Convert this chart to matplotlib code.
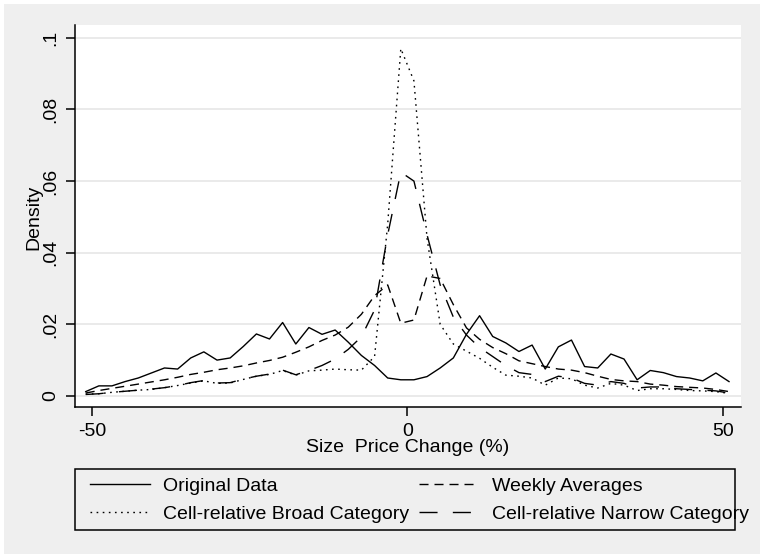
# Density of price-change size, four series (Stata-style look)
import numpy as np
import matplotlib
matplotlib.use("Agg")
import matplotlib.pyplot as plt
from matplotlib.patches import Rectangle

plt.rcParams['font.family'] = ['Liberation Sans', 'DejaVu Sans']

# --------------------------------------------------- data
x = [-51.0, -48.92, -46.84, -44.76, -42.67, -40.59, -38.51, -36.43, -34.35, -32.27,
     -30.18, -28.10, -26.02, -23.94, -21.86, -19.78, -17.69, -15.61, -13.53, -11.45,
     -9.37, -7.29, -5.20, -3.12, -1.04, 1.04, 3.12, 5.20, 7.29, 9.37,
     11.45, 13.53, 15.61, 17.69, 19.78, 21.86, 23.94, 26.02, 28.10, 30.18,
     32.27, 34.35, 36.43, 38.51, 40.59, 42.67, 44.76, 46.84, 48.92, 51.0]

original = [0.0012, 0.0028, 0.0028, 0.0040, 0.0050, 0.0064, 0.0078, 0.0075, 0.0106, 0.0123,
            0.0100, 0.0106, 0.0138, 0.0173, 0.0159, 0.0205, 0.0145, 0.0191, 0.0172, 0.0184,
            0.0150, 0.0113, 0.0085, 0.0050, 0.0045, 0.0045, 0.0054, 0.0078, 0.0106, 0.0172,
            0.0224, 0.0166, 0.0148, 0.0124, 0.0142, 0.0075, 0.0137, 0.0156, 0.0082, 0.0078,
            0.0117, 0.0103, 0.0045, 0.0071, 0.0065, 0.0054, 0.0050, 0.0042, 0.0064, 0.0040]

weekly = [0.0008, 0.0015, 0.0021, 0.0027, 0.0033, 0.0039, 0.0045, 0.0052, 0.0060, 0.0066,
          0.0073, 0.0078, 0.0084, 0.0092, 0.0099, 0.0108, 0.0122, 0.0137, 0.0155, 0.0170,
          0.0192, 0.0228, 0.0280, 0.0310, 0.0203, 0.0212, 0.0335, 0.0328, 0.0255, 0.0190,
          0.0158, 0.0135, 0.0118, 0.0098, 0.0090, 0.0082, 0.0075, 0.0072, 0.0065, 0.0055,
          0.0046, 0.0042, 0.0040, 0.0033, 0.0030, 0.0026, 0.0024, 0.0022, 0.0018, 0.0012]

broad = [0.0005, 0.0006, 0.0010, 0.0013, 0.0016, 0.0018, 0.0023, 0.0029, 0.0036, 0.0042,
         0.0035, 0.0036, 0.0046, 0.0055, 0.0060, 0.0071, 0.0058, 0.0070, 0.0072, 0.0075,
         0.0073, 0.0072, 0.0110, 0.0480, 0.0970, 0.0880, 0.0440, 0.0200, 0.0145, 0.0125,
         0.0105, 0.0080, 0.0058, 0.0055, 0.0050, 0.0030, 0.0050, 0.0048, 0.0030, 0.0022,
         0.0035, 0.0030, 0.0015, 0.0020, 0.0020, 0.0018, 0.0015, 0.0014, 0.0012, 0.0007]

narrow = [0.0004, 0.0006, 0.0010, 0.0013, 0.0016, 0.0019, 0.0023, 0.0029, 0.0037, 0.0043,
          0.0036, 0.0037, 0.0047, 0.0055, 0.0061, 0.0072, 0.0059, 0.0071, 0.0085, 0.0103,
          0.0130, 0.0165, 0.0240, 0.0450, 0.0625, 0.0600, 0.0450, 0.0310, 0.0220, 0.0170,
          0.0135, 0.0110, 0.0085, 0.0065, 0.0060, 0.0040, 0.0055, 0.0050, 0.0035, 0.0030,
          0.0040, 0.0035, 0.0022, 0.0025, 0.0025, 0.0020, 0.0018, 0.0016, 0.0014, 0.0008]

xticks = [-50, 0, 50]
yticks = [0, 0.02, 0.04, 0.06, 0.08, 0.1]
ytick_labels = ["0", ".02", ".04", ".06", ".08", ".1"]

# --------------------------------------------------- figure / axes
W, H = 760, 554
fig = plt.figure(figsize=(W / 100, H / 100), dpi=100, facecolor='white')
fig.patches.append(Rectangle((4 / W, 0), 1, 1 - 4 / H, transform=fig.transFigure,
                             facecolor='#efefef', edgecolor='none', zorder=-5))

ax = fig.add_axes([75 / W, 1 - 407 / H, 666 / W, 382 / H])
ax.set_facecolor('white')

l1, = ax.plot(x, original, color='black', lw=1.0, linestyle='-')
l2, = ax.plot(x, weekly, color='black', lw=1.0, linestyle=(0, (6.5, 4.3)))
l3, = ax.plot(x, broad, color='black', lw=1.0, linestyle=(0, (1.2, 3.2)))
l4, = ax.plot(x, narrow, color='black', lw=1.0, linestyle=(0, (13, 11)))

ax.set_xlim(-52.7, 52.9)
ax.set_ylim(-0.0031, 0.1036)
ax.set_xticks(xticks)
ax.set_xticklabels([str(t) for t in xticks])
ax.set_yticks(yticks)
ax.set_yticklabels(ytick_labels, rotation=90, va='center')

ax.grid(axis='y', color='#e6e6e6', lw=1.2)
ax.set_axisbelow(True)
for s in ['top', 'right']:
    ax.spines[s].set_visible(False)
for s in ['left', 'bottom']:
    ax.spines[s].set_linewidth(1.1)
ax.tick_params(length=6.5, width=1.1, labelsize=14, pad=5)

# --------------------------------------------------- axis titles
fig.text(408 / W, 1 - 447 / H, "Size  Price Change (%)", ha='center', va='center', fontsize=14)
fig.text(34 / W, 1 - 217 / H, "Density", rotation=90, ha='center', va='center', fontsize=14)

# --------------------------------------------------- legend (box drawn separately, text spills over like the original)
fig.legend([l1, l3, l2, l4],
           ["Original Data", "Cell-relative Broad Category",
            "Weekly Averages", "Cell-relative Narrow Category"],
           loc='upper left', bbox_to_anchor=(90 / W, 1 - 477 / H), ncol=2,
           frameon=False, fontsize=14, handlelength=3.1, handletextpad=0.65,
           columnspacing=0.5, labelspacing=0.55, borderpad=0, borderaxespad=0)
fig.patches.append(Rectangle((75 / W, 1 - 530 / H), 660 / W, 61 / H, transform=fig.transFigure,
                             fill=False, edgecolor='black', lw=1.1))

fig.savefig("out.png", dpi=100, facecolor=fig.get_facecolor())
